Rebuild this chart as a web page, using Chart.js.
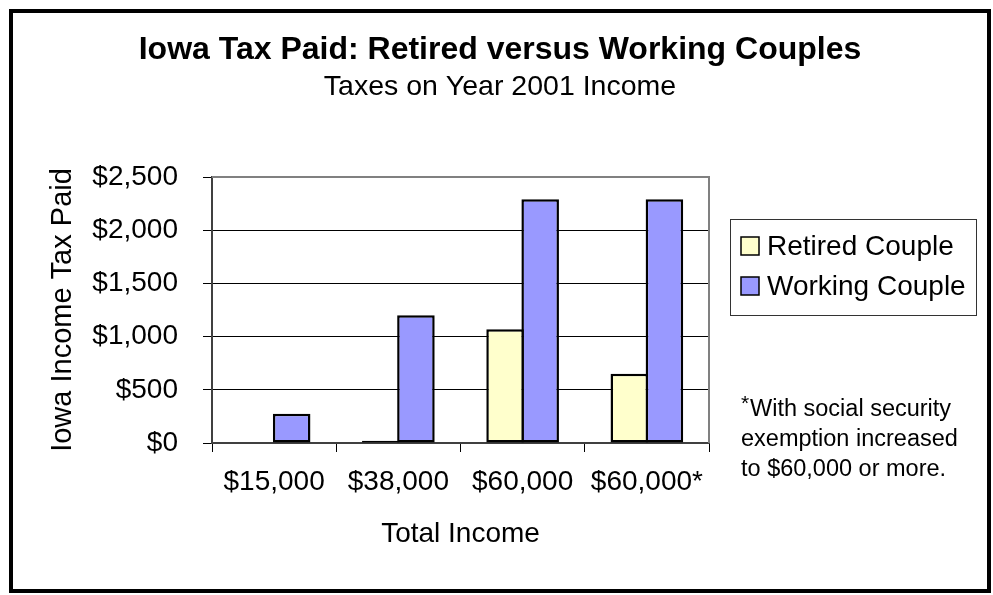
<!DOCTYPE html>
<html>
<head>
<meta charset="utf-8">
<script src="https://cdn.jsdelivr.net/npm/chart.js@4/dist/chart.umd.min.js"></script>
<style>
  html, body { margin: 0; padding: 0; background: #ffffff; }
  #wrap { position: relative; width: 993px; height: 595px; }
  canvas { display: block; }
</style>
</head>
<body>
<div id="wrap"><canvas id="c" width="993" height="595"></canvas></div>
<script>
// ---- data ----
const categories = ['$15,000', '$38,000', '$60,000', '$60,000*'];
const seriesNames = ['Retired Couple', 'Working Couple'];
const retiredCouple = [0, 20, 1070, 650];
const workingCouple = [275, 1200, 2290, 2290];
const yTickValues = [0, 500, 1000, 1500, 2000, 2500];
const titleText = 'Iowa Tax Paid: Retired versus Working Couples';
const subtitleText = 'Taxes on Year 2001 Income';
const xAxisTitle = 'Total Income';
const yAxisTitle = 'Iowa Income Tax Paid';
const footnoteMark = '*';
const footnoteLines = ['With social security', 'exemption increased', 'to $60,000 or more.'];

const FONT = "'Liberation Sans', Arial, Helvetica, sans-serif";
const fmtMoney = v => '$' + Number(v).toLocaleString('en-US');

// ---- plugins: outer frame, plot border, legend, footnote ----
const decorPlugin = {
  id: 'decor',
  beforeDatasetsDraw(chart) {
    const { ctx, chartArea: a } = chart;
    ctx.save();
    ctx.strokeStyle = '#808080';
    ctx.lineWidth = 2;
    ctx.beginPath();
    ctx.moveTo(a.left, a.top);
    ctx.lineTo(a.right, a.top);
    ctx.lineTo(a.right, a.bottom);
    ctx.stroke();
    ctx.restore();
  },
  afterDraw(chart) {
    const { ctx } = chart;
    ctx.save();
    // outer frame
    ctx.strokeStyle = '#000';
    ctx.lineWidth = 4;
    ctx.strokeRect(11, 11, 978, 580);

    // legend
    ctx.lineWidth = 1;
    ctx.strokeStyle = '#333';
    ctx.strokeRect(730.5, 219.5, 246, 96);
    ctx.font = '28px ' + FONT;
    ctx.textBaseline = 'alphabetic';
    ctx.textAlign = 'left';
    const rows = [255, 295];
    chart.data.datasets.forEach((ds, i) => {
      const base = rows[i];
      ctx.fillStyle = ds.backgroundColor;
      ctx.fillRect(741, base - 18, 18, 18);
      ctx.strokeStyle = '#000';
      ctx.lineWidth = 1.5;
      ctx.strokeRect(741, base - 18, 18, 18);
      ctx.fillStyle = '#000';
      ctx.fillText(ds.label, 767, base);
    });

    // footnote
    ctx.fillStyle = '#000';
    ctx.font = '21px ' + FONT;
    ctx.fillText(footnoteMark, 741, 410);
    ctx.font = '23.5px ' + FONT;
    const fb = [416, 446, 476];
    const fx = [750, 741, 741];
    footnoteLines.forEach((t, i) => ctx.fillText(t, fx[i], fb[i]));
    ctx.restore();
  }
};

const ctx = document.getElementById('c').getContext('2d');
new Chart(ctx, {
  type: 'bar',
  data: {
    labels: categories,
    datasets: [
      {
        label: seriesNames[0],
        data: retiredCouple,
        backgroundColor: '#FFFFCC',
        borderColor: '#000000',
        borderWidth: 2.5,
        borderSkipped: false,
        categoryPercentage: 0.565,
        barPercentage: 1.07
      },
      {
        label: seriesNames[1],
        data: workingCouple,
        backgroundColor: '#9999FF',
        borderColor: '#000000',
        borderWidth: 2.5,
        borderSkipped: false,
        categoryPercentage: 0.565,
        barPercentage: 1.07
      }
    ]
  },
  options: {
    responsive: false,
    animation: false,
    devicePixelRatio: 1,
    layout: { padding: { left: 7, right: 0, top: 0, bottom: 0 } },
    plugins: {
      legend: { display: false },
      tooltip: { enabled: false },
      title: {
        display: true,
        text: titleText,
        color: '#000',
        font: { family: FONT, size: 32, weight: 'bold', lineHeight: '34px' },
        padding: { top: 33, bottom: 0 }
      },
      subtitle: {
        display: true,
        text: subtitleText,
        color: '#000',
        font: { family: FONT, size: 28.5, weight: 'normal', lineHeight: '30px' },
        padding: { top: 5, bottom: 75 }
      }
    },
    scales: {
      x: {
        offset: true,
        grid: {
          offset: true,
          drawOnChartArea: false,
          drawTicks: true,
          tickLength: 9,
          tickColor: '#000',
          tickWidth: 1
        },
        border: { display: true, color: '#404040', width: 2 },
        ticks: { color: '#000', font: { family: FONT, size: 28 }, padding: 13, maxRotation: 0, autoSkip: false },
        title: {
          display: true,
          text: xAxisTitle,
          color: '#000',
          font: { family: FONT, size: 28, lineHeight: '32px' },
          padding: { top: 0, bottom: 45 }
        },
        afterFit(scale) { scale.height = 152; }
      },
      y: {
        min: 0,
        max: 2500,
        afterBuildTicks(scale) { scale.ticks = yTickValues.map(v => ({ value: v })); },
        grid: {
          color: c => (c.tick && c.tick.value === 2500) ? 'rgba(0,0,0,0)' : '#000',
          lineWidth: 1,
          drawTicks: true,
          tickLength: 9,
          tickColor: '#000'
        },
        border: { display: true, color: '#404040', width: 2 },
        ticks: {
          color: '#000',
          font: { family: FONT, size: 28 },
          padding: 25,
          callback: v => fmtMoney(v)
        },
        title: {
          display: true,
          text: yAxisTitle,
          color: '#000',
          font: { family: FONT, size: 29, lineHeight: '32px' },
          padding: { top: 40, bottom: 0 }
        },
        afterFit(scale) { scale.width = 205; }
      },
      spacer: {
        type: 'linear',
        position: 'right',
        display: true,
        grid: { display: false, drawTicks: false },
        border: { display: false },
        ticks: { display: false },
        afterFit(scale) { scale.width = 284; }
      }
    }
  },
  plugins: [decorPlugin]
});
</script>
</body>
</html>
